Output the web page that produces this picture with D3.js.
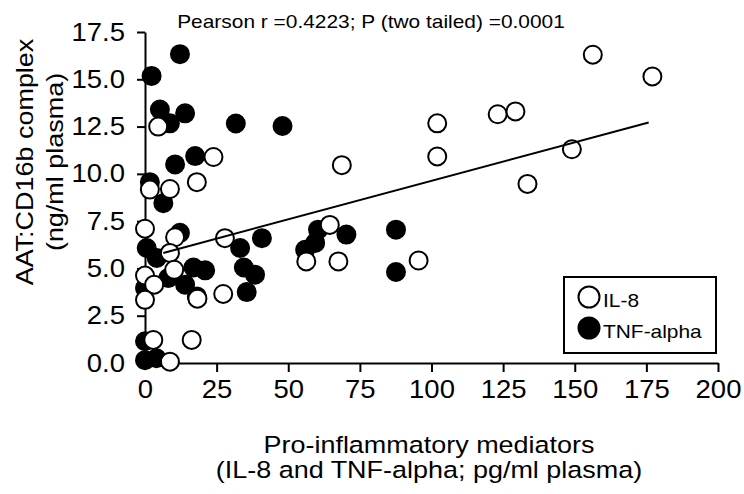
<!DOCTYPE html>
<html>
<head>
<meta charset="utf-8">
<script src="https://cdn.jsdelivr.net/npm/d3@7"></script>
<style>
  html, body { margin: 0; padding: 0; background: #fff; }
  svg { display: block; font-family: "Liberation Sans", Arial, sans-serif; }
</style>
</head>
<body>
<svg id="chart" width="744" height="494"></svg>
<script>
// Werte (x: pg/ml, y: ng/ml)
const il8X = [156.3, 177.1, 123.1, 129.3, 149.0, 133.5, 102, 102, 68.7, 64.5, 95.5, 56.3, 67.5,
              27.9, 27.3, 18.3, 4.6, 23.9, 1.7, 8.7, 18.1, 0, 10.5, 8.7, 10.2, 0, 3.2, 0, 2.9, 16.3, 8.7];
const il8Y = [16.3, 15.15, 13.15, 13.3, 11.3, 9.47, 12.67, 10.92, 10.46, 7.3, 5.42, 5.37, 5.37,
              6.6, 3.65, 3.4, 12.5, 10.89, 9.17, 9.2, 9.56, 7.1, 6.65, 5.82, 4.93, 4.62, 4.14, 3.34, 1.22, 1.22, 0.07];

const tnfX = [12.2, 2.3, 5.2, 14.0, 8.7, 31.7, 48, 10.5, 17.5, 1.7, 6.4, 12.2, 0.6, 4.1, 16.9, 21,
              8.1, 14, 18.1, 0, 33.2, 40.8, 34.5, 38.4, 35.5, 55.9, 59.4, 60.4, 70.3, 87.6, 87.6,
              0, 0, 4];
const tnfY = [16.33, 15.18, 13.4, 13.2, 12.67, 12.66, 12.53, 10.5, 10.94, 9.56, 8.45, 6.88, 6.08, 5.55, 5.05, 4.9,
              4.49, 4.14, 3.52, 3.96, 6.08, 6.6, 5.05, 4.67, 3.75, 5.99, 6.35, 7.05, 6.79, 7.05, 4.81,
              1.15, 0.15, 0.25];

// Regressionsgerade
const fitSlope = 0.0407;
const fitIntercept = 5.56;
const fitRange = [6.4, 175.8];

const xTicks = [0, 25, 50, 75, 100, 125, 150, 175, 200];
const yTicks = [0, 2.5, 5, 7.5, 10, 12.5, 15, 17.5];
const seriesNames = ['IL-8', 'TNF-alpha'];
const titleText = 'Pearson r =0.4223; P (two tailed) =0.0001';

const STRETCH = 1.1; // Originalbild ist horizontal leicht gestreckt

const svg = d3.select('#chart');
const x = d3.scaleLinear().domain([0, 200]).range([145, 718]);
const y = d3.scaleLinear().domain([0, 17.5]).range([363, 32]);

// Achsen
const xAxis = svg.append('g')
  .attr('transform', `translate(0,${y(0)})`)
  .call(d3.axisBottom(x).tickValues(xTicks).tickSize(9).tickPadding(8).tickSizeOuter(0));
const yAxis = svg.append('g')
  .attr('transform', `translate(${x(0)},0)`)
  .call(d3.axisLeft(y).tickValues(yTicks).tickFormat(d3.format('.1f')).tickSize(8).tickPadding(12).tickSizeOuter(0));

[xAxis, yAxis].forEach(a => {
  a.select('.domain').attr('stroke', '#000').attr('stroke-width', 2);
  a.selectAll('.tick line').attr('stroke', '#000').attr('stroke-width', 2);
  a.selectAll('.tick text').attr('fill', '#000').attr('font-size', 25)
    .attr('font-family', '"Liberation Sans", Arial, sans-serif');
});
xAxis.select('.tick line').remove(); // 0-Tick liegt unter der y-Achse

// Punkte: erst TNF (gefuellt), dann IL-8 (offen)
const pts = svg.append('g');
pts.selectAll('circle.tnf')
  .data(d3.zip(tnfX, tnfY))
  .join('circle').attr('class', 'tnf')
  .attr('cx', d => x(d[0])).attr('cy', d => y(d[1]))
  .attr('r', 9).attr('fill', '#000').attr('stroke', '#000').attr('stroke-width', 2);
pts.selectAll('circle.il8')
  .data(d3.zip(il8X, il8Y))
  .join('circle').attr('class', 'il8')
  .attr('cx', d => x(d[0])).attr('cy', d => y(d[1]))
  .attr('r', 9).attr('fill', '#fff').attr('stroke', '#000').attr('stroke-width', 2);

// Regressionslinie
svg.append('line')
  .attr('x1', x(fitRange[0])).attr('y1', y(fitIntercept + fitSlope * fitRange[0]))
  .attr('x2', x(fitRange[1])).attr('y2', y(fitIntercept + fitSlope * fitRange[1]))
  .attr('stroke', '#000').attr('stroke-width', 2);

// Titel
svg.append('text')
  .attr('x', 371).attr('y', 28)
  .attr('text-anchor', 'middle').attr('font-size', 19)
  .text(titleText);

// Achsentitel
const xTitle = svg.append('text').attr('text-anchor', 'middle').attr('font-size', 24.5);
xTitle.append('tspan').attr('x', 429).attr('y', 453).text('Pro-inflammatory mediators');
xTitle.append('tspan').attr('x', 429).attr('y', 478).text('(IL-8 and TNF-alpha; pg/ml plasma)');

svg.append('text').attr('transform', 'translate(33,162) rotate(-90)')
  .attr('text-anchor', 'middle').attr('font-size', 24.5).text('AAT:CD16b complex');
svg.append('text').attr('transform', 'translate(63,162) rotate(-90)')
  .attr('text-anchor', 'middle').attr('font-size', 24.5).text('(ng/ml plasma)');

// Legende
const lg = svg.append('g');
lg.append('rect').attr('x', 564).attr('y', 277).attr('width', 152).attr('height', 76)
  .attr('fill', '#fff').attr('stroke', '#000').attr('stroke-width', 2);
seriesNames.forEach((name, i) => {
  lg.append('circle').attr('cx', 589).attr('cy', 297 + i * 31).attr('r', 10.5)
    .attr('fill', i === 0 ? '#fff' : '#000').attr('stroke', '#000').attr('stroke-width', 2);
  lg.append('text').attr('x', 603).attr('y', 307 + i * 31).attr('font-size', 19).text(name);
});

// horizontale Streckung der Texte wie im Original
svg.selectAll('text').each(function () {
  const el = this;
  const tspans = el.querySelectorAll('tspan');
  const targets = tspans.length ? Array.from(tspans) : [el];
  targets.forEach(t => {
    const len = t.getComputedTextLength();
    t.setAttribute('textLength', len * STRETCH);
    t.setAttribute('lengthAdjust', 'spacingAndGlyphs');
  });
});
</script>
</body>
</html>
